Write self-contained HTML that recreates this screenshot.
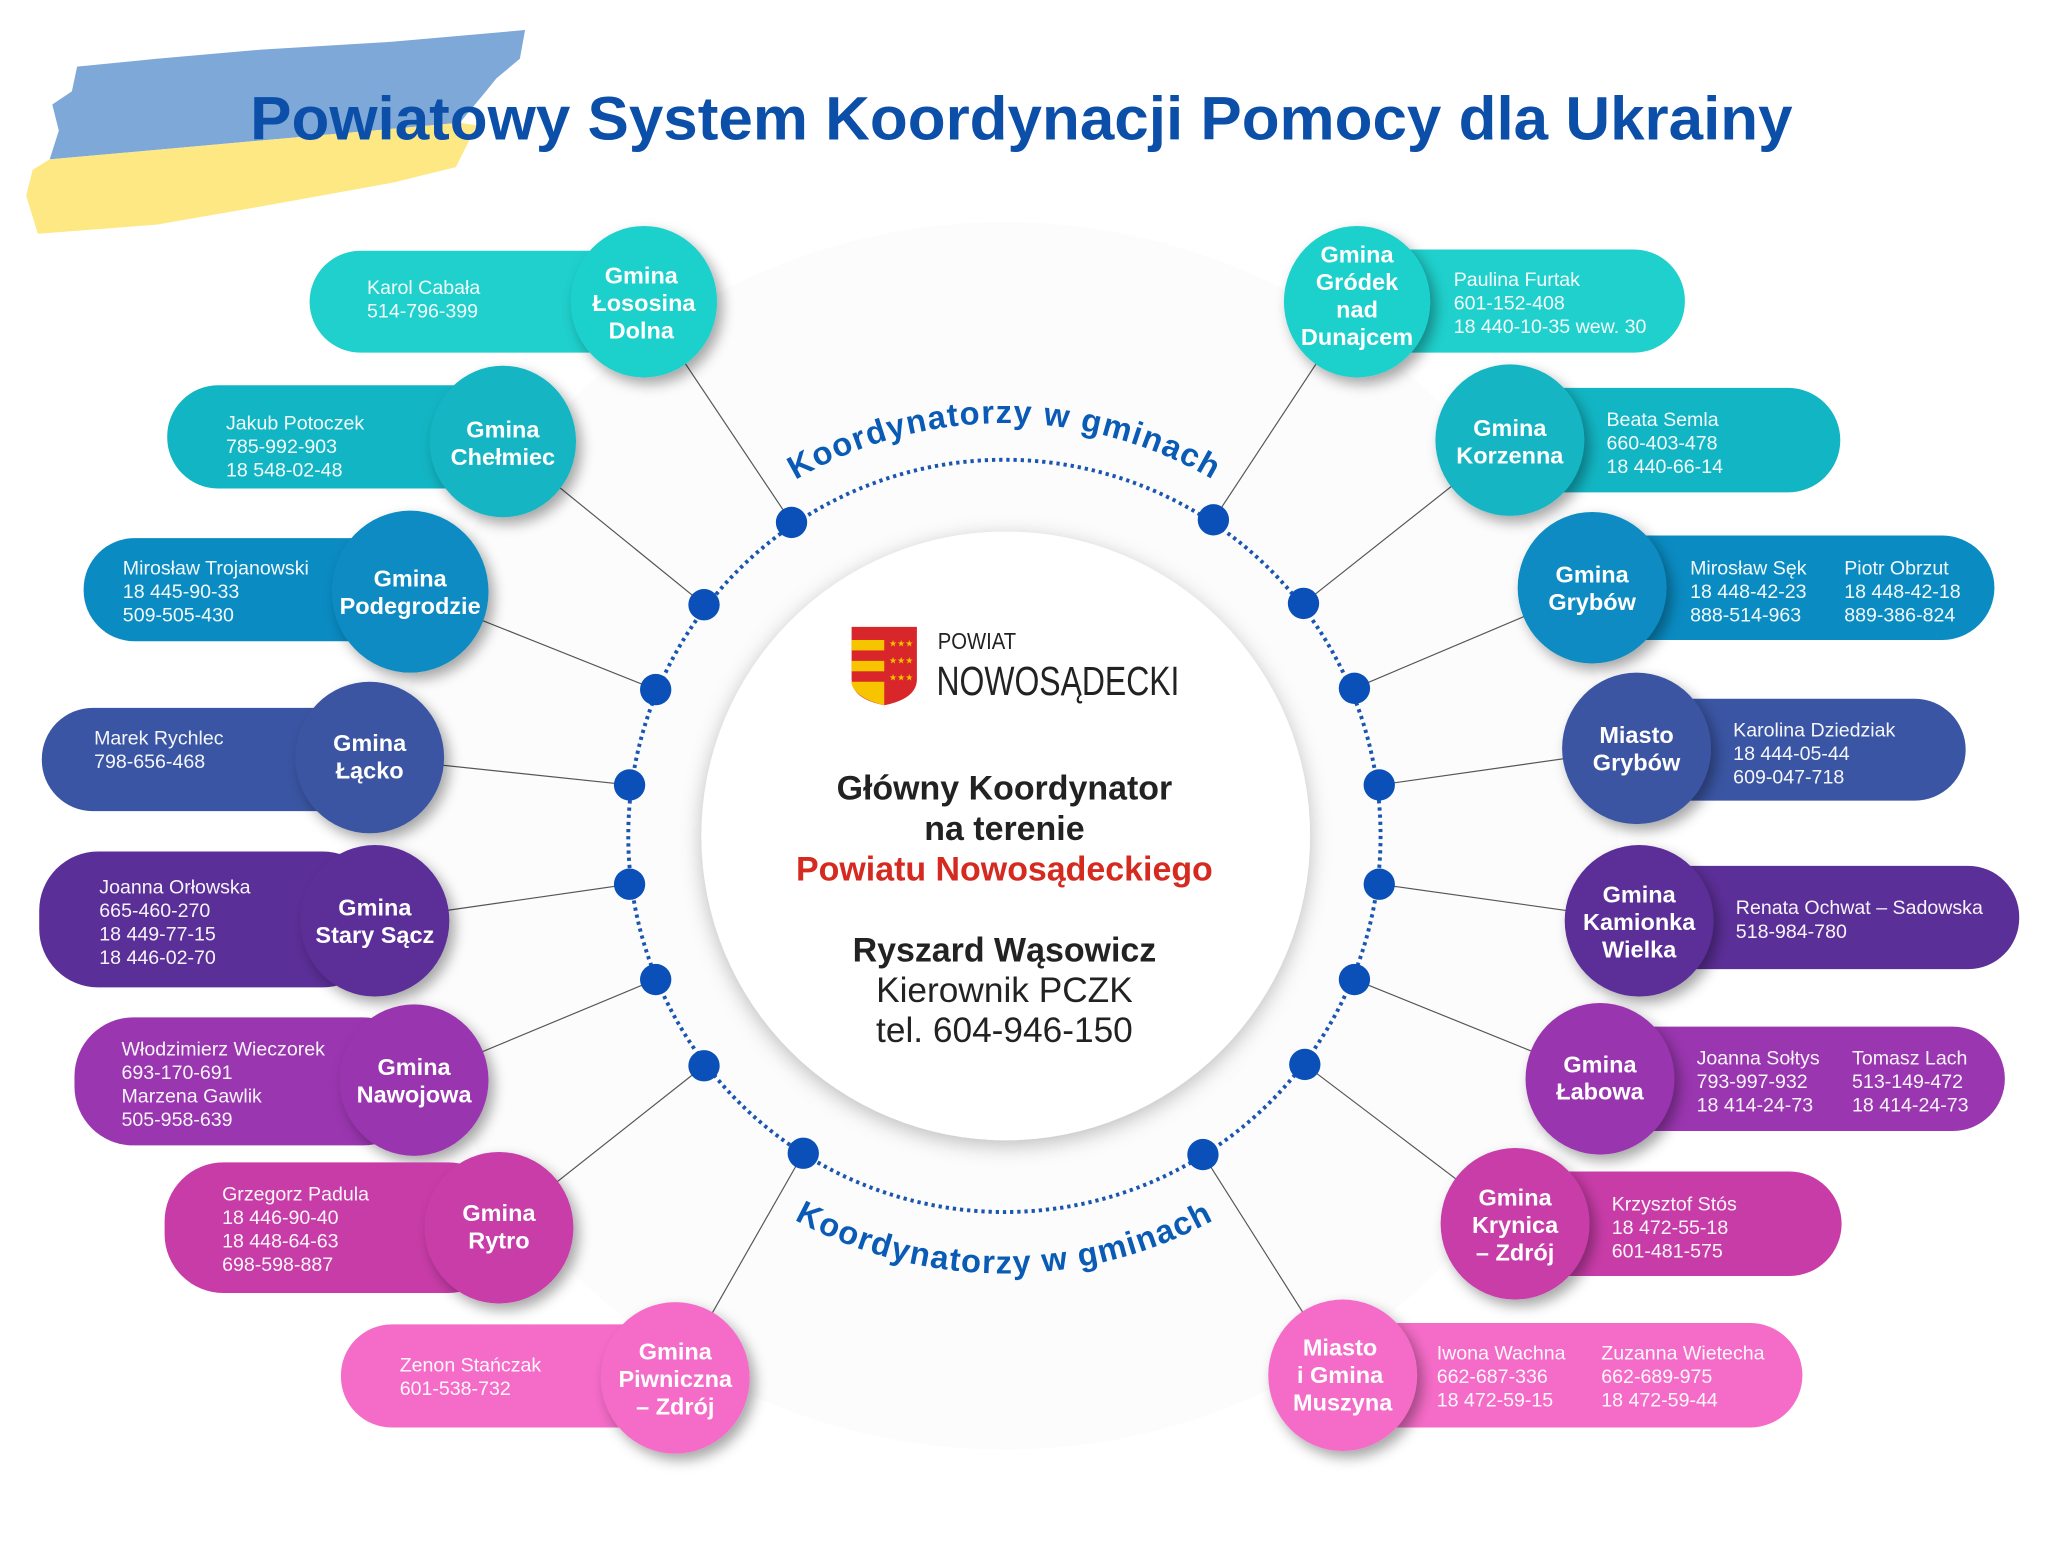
<!DOCTYPE html>
<html><head><meta charset="utf-8"><style>
html,body{margin:0;padding:0;background:#fff;}
svg{display:block;}
text{font-family:"Liberation Sans",Arial,sans-serif;}
.pt{fill:#fff;font-size:15px;opacity:.95}
.cl{fill:#fff;font-size:18px;font-weight:bold;text-anchor:middle}
</style></head><body>
<svg width="2048" height="1549" viewBox="0 0 1568 1186" xmlns="http://www.w3.org/2000/svg">
<defs>
<filter id="sh" x="-30%" y="-30%" width="170%" height="170%"><feDropShadow dx="4" dy="5" stdDeviation="5" flood-color="#000" flood-opacity="0.35"/></filter>
<filter id="sh2" x="-20%" y="-20%" width="140%" height="140%"><feDropShadow dx="0" dy="4" stdDeviation="8" flood-color="#000" flood-opacity="0.25"/></filter>
<path id="arcTop" d="M 453 640 A 316 316 0 0 1 1085 640"/>
<path id="arcBot" d="M 434 640 A 335 335 0 0 0 1104 640"/>
</defs>
<rect width="1568" height="1186" fill="#fff"/>
<!-- flag -->
<polygon points="59,51 120,45 200,38 300,32 402,23 398,45 380,60 372,70 352,94 38,122 45,100 40,80 55,70" fill="#7ea8d8"/>
<polygon points="38,122 352,94 365,96 349,128 300,140 200,158 120,172 29,179 20,150 25,130" fill="#fde883"/>
<!-- title -->
<text x="782" y="107" font-size="47" font-weight="bold" fill="#0b4fa8" text-anchor="middle" textLength="1181" lengthAdjust="spacingAndGlyphs">Powiatowy System Koordynacji Pomocy dla Ukrainy</text>
<!-- faint bg circle -->
<circle cx="769" cy="640" r="470" fill="#fcfcfc"/>
<!-- connectors -->
<g stroke="#555" stroke-width="0.9">
<line x1="493" y1="231" x2="606" y2="400"/>
<line x1="385" y1="338" x2="539" y2="463"/>
<line x1="314" y1="453" x2="502" y2="528"/>
<line x1="283" y1="580" x2="482" y2="601"/>
<line x1="287" y1="705" x2="482" y2="677"/>
<line x1="317" y1="827" x2="502" y2="750"/>
<line x1="382" y1="940" x2="539" y2="816"/>
<line x1="517" y1="1055" x2="615" y2="883"/>
<line x1="1039" y1="231" x2="929" y2="398"/>
<line x1="1156" y1="337" x2="998" y2="462"/>
<line x1="1219" y1="450" x2="1037" y2="527"/>
<line x1="1253" y1="573" x2="1056" y2="601"/>
<line x1="1255" y1="705" x2="1056" y2="677"/>
<line x1="1225" y1="826" x2="1037" y2="750"/>
<line x1="1160" y1="937" x2="999" y2="815"/>
<line x1="1028" y1="1053" x2="921" y2="884"/>
</g>
<!-- dotted ring -->
<circle cx="769" cy="640" r="288" fill="none" stroke="#1a55b0" stroke-width="3" stroke-dasharray="2.5,3"/>
<g fill="#0a50b8">
<circle cx="606" cy="400" r="12"/><circle cx="539" cy="463" r="12"/><circle cx="502" cy="528" r="12"/><circle cx="482" cy="601" r="12"/>
<circle cx="482" cy="677" r="12"/><circle cx="502" cy="750" r="12"/><circle cx="539" cy="816" r="12"/><circle cx="615" cy="883" r="12"/>
<circle cx="929" cy="398" r="12"/><circle cx="998" cy="462" r="12"/><circle cx="1037" cy="527" r="12"/><circle cx="1056" cy="601" r="12"/>
<circle cx="1056" cy="677" r="12"/><circle cx="1037" cy="750" r="12"/><circle cx="999" cy="815" r="12"/><circle cx="921" cy="884" r="12"/>
</g>
<text font-size="25" font-weight="bold" fill="#0a5bb5" letter-spacing="1"><textPath href="#arcTop" startOffset="50%" text-anchor="middle">Koordynatorzy w gminach</textPath></text>
<text font-size="25" font-weight="bold" fill="#0a5bb5" letter-spacing="1"><textPath href="#arcBot" startOffset="50%" text-anchor="middle">Koordynatorzy w gminach</textPath></text>
<!-- center -->
<circle cx="770" cy="640" r="233" fill="#fff" filter="url(#sh2)"/>
<g>
<path d="M652 480 H702 V520 Q702 535 677 540 Q652 535 652 520 Z" fill="#d9262a"/>
<rect x="652" y="490" width="25" height="8" fill="#f7c400"/>
<rect x="652" y="506" width="25" height="8" fill="#f7c400"/>
<path d="M652 522 H677 V540 Q656 535 652 524 Z" fill="#f7c400"/>
<text x="690" y="495" font-size="7" fill="#f7c400" text-anchor="middle">★★★</text>
<text x="690" y="508" font-size="7" fill="#f7c400" text-anchor="middle">★★★</text>
<text x="690" y="521" font-size="7" fill="#f7c400" text-anchor="middle">★★★</text>
</g>
<text x="718" y="497" font-size="18" fill="#222" textLength="60" lengthAdjust="spacingAndGlyphs">POWIAT</text>
<text x="717" y="532" font-size="31" fill="#222" textLength="186" lengthAdjust="spacingAndGlyphs">NOWOSĄDECKI</text>
<g text-anchor="middle" font-size="26" fill="#222">
<text x="769" y="612" font-weight="bold">Główny Koordynator</text>
<text x="769" y="643" font-weight="bold">na terenie</text>
<text x="769" y="674" font-weight="bold" fill="#d42a20">Powiatu Nowosądeckiego</text>
<text x="769" y="736" font-weight="bold">Ryszard Wąsowicz</text>
<text x="769" y="767" font-size="27">Kierownik PCZK</text>
<text x="769" y="798" font-size="27">tel. 604-946-150</text>
</g>
<!-- LEFT nodes -->
<rect x="237" y="192" width="270" height="78" rx="39" fill="#1fd0cc"/>
<text class="pt" x="281" y="225">Karol Cabała</text><text class="pt" x="281" y="243">514-796-399</text>
<ellipse cx="493" cy="231" rx="56" ry="58" fill="#1fd0cc" filter="url(#sh)"/>
<text class="cl" x="491" y="217">Gmina</text><text class="cl" x="493" y="238">Łososina</text><text class="cl" x="491" y="259">Dolna</text>

<rect x="128" y="295" width="268" height="79" rx="39" fill="#12b5c4"/>
<text class="pt" x="173" y="329">Jakub Potoczek</text><text class="pt" x="173" y="347">785-992-903</text><text class="pt" x="173" y="365">18 548-02-48</text>
<ellipse cx="385" cy="338" rx="56" ry="58" fill="#12b5c4" filter="url(#sh)"/>
<text class="cl" x="385" y="335">Gmina</text><text class="cl" x="385" y="356">Chełmiec</text>

<rect x="64" y="412" width="260" height="79" rx="39" fill="#0a8bc2"/>
<text class="pt" x="94" y="440">Mirosław Trojanowski</text><text class="pt" x="94" y="458">18 445-90-33</text><text class="pt" x="94" y="476">509-505-430</text>
<ellipse cx="314" cy="453" rx="60" ry="62" fill="#0a8bc2" filter="url(#sh)"/>
<text class="cl" x="314" y="449">Gmina</text><text class="cl" x="314" y="470">Podegrodzie</text>

<rect x="32" y="542" width="262" height="79" rx="39" fill="#3a55a3"/>
<text class="pt" x="72" y="570">Marek Rychlec</text><text class="pt" x="72" y="588">798-656-468</text>
<ellipse cx="283" cy="580" rx="57" ry="58" fill="#3a55a3" filter="url(#sh)"/>
<text class="cl" x="283" y="575">Gmina</text><text class="cl" x="283" y="596">Łącko</text>

<rect x="30" y="652" width="262" height="104" rx="45" fill="#5b2f98"/>
<text class="pt" x="76" y="684">Joanna Orłowska</text><text class="pt" x="76" y="702">665-460-270</text><text class="pt" x="76" y="720">18 449-77-15</text><text class="pt" x="76" y="738">18 446-02-70</text>
<ellipse cx="287" cy="705" rx="57" ry="58" fill="#5b2f98" filter="url(#sh)"/>
<text class="cl" x="287" y="701">Gmina</text><text class="cl" x="287" y="722">Stary Sącz</text>

<rect x="57" y="779" width="266" height="98" rx="45" fill="#9a36b0"/>
<text class="pt" x="93" y="808">Włodzimierz Wieczorek</text><text class="pt" x="93" y="826">693-170-691</text><text class="pt" x="93" y="844">Marzena Gawlik</text><text class="pt" x="93" y="862">505-958-639</text>
<ellipse cx="317" cy="827" rx="57" ry="58" fill="#9a36b0" filter="url(#sh)"/>
<text class="cl" x="317" y="823">Gmina</text><text class="cl" x="317" y="844">Nawojowa</text>

<rect x="126" y="890" width="262" height="100" rx="45" fill="#c83ca8"/>
<text class="pt" x="170" y="919">Grzegorz Padula</text><text class="pt" x="170" y="937">18 446-90-40</text><text class="pt" x="170" y="955">18 448-64-63</text><text class="pt" x="170" y="973">698-598-887</text>
<ellipse cx="382" cy="940" rx="57" ry="58" fill="#c83ca8" filter="url(#sh)"/>
<text class="cl" x="382" y="935">Gmina</text><text class="cl" x="382" y="956">Rytro</text>

<rect x="261" y="1014" width="262" height="79" rx="39" fill="#f56cc8"/>
<text class="pt" x="306" y="1050">Zenon Stańczak</text><text class="pt" x="306" y="1068">601-538-732</text>
<ellipse cx="517" cy="1055" rx="57" ry="58" fill="#f56cc8" filter="url(#sh)"/>
<text class="cl" x="517" y="1041">Gmina</text><text class="cl" x="517" y="1062">Piwniczna</text><text class="cl" x="517" y="1083">– Zdrój</text>

<!-- RIGHT nodes -->
<rect x="1030" y="191" width="260" height="79" rx="39" fill="#1fd0cc"/>
<text class="pt" x="1113" y="219">Paulina Furtak</text><text class="pt" x="1113" y="237">601-152-408</text><text class="pt" x="1113" y="255">18 440-10-35 wew. 30</text>
<ellipse cx="1039" cy="231" rx="56" ry="58" fill="#1fd0cc" filter="url(#sh)"/>
<text class="cl" x="1039" y="201" font-size="17">Gmina</text><text class="cl" x="1039" y="222" font-size="17">Gródek</text><text class="cl" x="1039" y="243" font-size="17">nad</text><text class="cl" x="1039" y="264" font-size="17">Dunajcem</text>

<rect x="1150" y="297" width="259" height="80" rx="40" fill="#12b5c4"/>
<text class="pt" x="1230" y="326">Beata Semla</text><text class="pt" x="1230" y="344">660-403-478</text><text class="pt" x="1230" y="362">18 440-66-14</text>
<ellipse cx="1156" cy="337" rx="57" ry="58" fill="#12b5c4" filter="url(#sh)"/>
<text class="cl" x="1156" y="334">Gmina</text><text class="cl" x="1156" y="355">Korzenna</text>

<rect x="1215" y="410" width="312" height="80" rx="40" fill="#0a8bc2"/>
<text class="pt" x="1294" y="440">Mirosław Sęk</text><text class="pt" x="1294" y="458">18 448-42-23</text><text class="pt" x="1294" y="476">888-514-963</text>
<text class="pt" x="1412" y="440">Piotr Obrzut</text><text class="pt" x="1412" y="458">18 448-42-18</text><text class="pt" x="1412" y="476">889-386-824</text>
<ellipse cx="1219" cy="450" rx="57" ry="58" fill="#0a8bc2" filter="url(#sh)"/>
<text class="cl" x="1219" y="446">Gmina</text><text class="cl" x="1219" y="467">Grybów</text>

<rect x="1250" y="535" width="255" height="78" rx="39" fill="#3a55a3"/>
<text class="pt" x="1327" y="564">Karolina Dziedziak</text><text class="pt" x="1327" y="582">18 444-05-44</text><text class="pt" x="1327" y="600">609-047-718</text>
<ellipse cx="1253" cy="573" rx="57" ry="58" fill="#3a55a3" filter="url(#sh)"/>
<text class="cl" x="1253" y="569">Miasto</text><text class="cl" x="1253" y="590">Grybów</text>

<rect x="1250" y="663" width="296" height="79" rx="39" fill="#5b2f98"/>
<text class="pt" x="1329" y="700">Renata Ochwat – Sadowska</text><text class="pt" x="1329" y="718">518-984-780</text>
<ellipse cx="1255" cy="705" rx="57" ry="58" fill="#5b2f98" filter="url(#sh)"/>
<text class="cl" x="1255" y="691">Gmina</text><text class="cl" x="1255" y="712">Kamionka</text><text class="cl" x="1255" y="733">Wielka</text>

<rect x="1220" y="786" width="315" height="80" rx="40" fill="#9a36b0"/>
<text class="pt" x="1299" y="815">Joanna Sołtys</text><text class="pt" x="1299" y="833">793-997-932</text><text class="pt" x="1299" y="851">18 414-24-73</text>
<text class="pt" x="1418" y="815">Tomasz Lach</text><text class="pt" x="1418" y="833">513-149-472</text><text class="pt" x="1418" y="851">18 414-24-73</text>
<ellipse cx="1225" cy="826" rx="57" ry="58" fill="#9a36b0" filter="url(#sh)"/>
<text class="cl" x="1225" y="821">Gmina</text><text class="cl" x="1225" y="842">Łabowa</text>

<rect x="1155" y="897" width="255" height="80" rx="40" fill="#c83ca8"/>
<text class="pt" x="1234" y="927">Krzysztof Stós</text><text class="pt" x="1234" y="945">18 472-55-18</text><text class="pt" x="1234" y="963">601-481-575</text>
<ellipse cx="1160" cy="937" rx="57" ry="58" fill="#c83ca8" filter="url(#sh)"/>
<text class="cl" x="1160" y="923">Gmina</text><text class="cl" x="1160" y="944">Krynica</text><text class="cl" x="1160" y="965">– Zdrój</text>

<rect x="1020" y="1013" width="360" height="80" rx="40" fill="#f56cc8"/>
<text class="pt" x="1100" y="1041">Iwona Wachna</text><text class="pt" x="1100" y="1059">662-687-336</text><text class="pt" x="1100" y="1077">18 472-59-15</text>
<text class="pt" x="1226" y="1041">Zuzanna Wietecha</text><text class="pt" x="1226" y="1059">662-689-975</text><text class="pt" x="1226" y="1077">18 472-59-44</text>
<ellipse cx="1028" cy="1053" rx="57" ry="58" fill="#f56cc8" filter="url(#sh)"/>
<text class="cl" x="1026" y="1038">Miasto</text><text class="cl" x="1026" y="1059">i Gmina</text><text class="cl" x="1028" y="1080">Muszyna</text>
</svg>
</body></html>
